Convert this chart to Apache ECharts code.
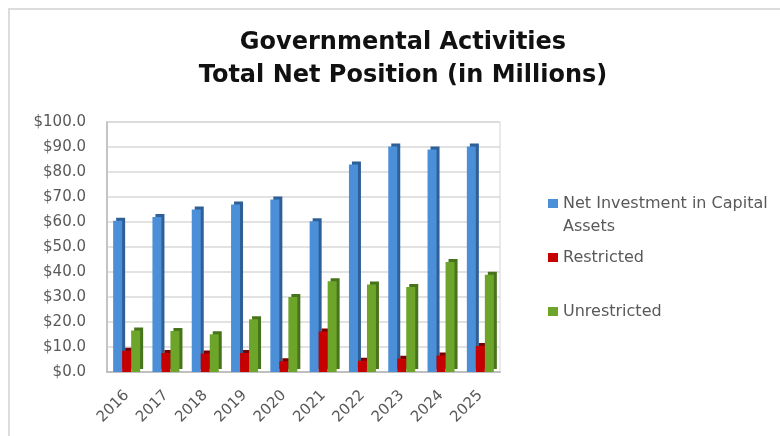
<!DOCTYPE html>
<html>
<head>
<meta charset="utf-8">
<script src="https://cdn.jsdelivr.net/npm/echarts@6/dist/echarts.min.js"></script>
<style>
  html, body { margin: 0; padding: 0; background: #ffffff; }
  #wrap { position: relative; width: 780px; height: 436px; overflow: hidden; }
  #frame { position: absolute; left: 8px; top: 8px; width: 800px; height: 460px;
           border-left: 2px solid #dcdcdc; border-top: 2px solid #dcdcdc; }
  #chart { position: absolute; left: 0; top: 0; width: 780px; height: 436px; }
</style>
</head>
<body>
<div id="wrap">
  <div id="frame"></div>
  <div id="chart"></div>
</div>
<script>
// Fiscal years on the category axis
const years = ['2016', '2017', '2018', '2019', '2020', '2021', '2022', '2023', '2024', '2025'];

// Net position components, $ millions
const netInvestment = [60.5, 62, 65, 67, 69, 60.3, 83, 90.2, 89, 90.2];
const restricted    = [8.5, 7.6, 7.4, 7.6, 4.3, 16.2, 4.5, 5.3, 6.6, 10.4];
const unrestricted  = [16.6, 16.4, 15.1, 21.1, 30.0, 36.3, 35.0, 34.0, 44.0, 38.9];

// Value axis ticks
const yTicks = { min: 0, max: 100, step: 10 };

const seriesNames = ['Net Investment in Capital\nAssets', 'Restricted', 'Unrestricted'];
const font = 'DejaVu Sans';

function bar(name, data, face, side) {
  return {
    name: name,
    type: 'bar',
    data: data,
    barWidth: 9,
    barGap: '0%',
    itemStyle: {
      color: face,
      shadowColor: side,
      shadowBlur: 0,
      shadowOffsetX: 3,
      shadowOffsetY: -3
    },
    emphasis: { disabled: true }
  };
}

// One legend per series so each swatch sits at its own row;
// a leading blank line keeps the swatch level with the first text line.
function legendFor(name, color, top, formatter) {
  return {
    show: true,
    orient: 'vertical',
    left: 543,
    top: top,
    itemWidth: 10,
    itemHeight: 9,
    icon: 'rect',
    itemGap: 0,
    data: [{ name: name, itemStyle: { color: color } }],
    formatter: formatter || (n => n),
    textStyle: { fontFamily: font, fontSize: 16, color: '#595959', lineHeight: 23 }
  };
}

const chart = echarts.init(document.getElementById('chart'), null, { renderer: 'canvas' });
chart.setOption({
  animation: false,
  backgroundColor: 'transparent',
  title: {
    text: 'Governmental Activities\nTotal Net Position (in Millions)',
    left: 398,
    top: 21,
    textAlign: 'center',
    textStyle: {
      fontFamily: 'DejaVu Sans',
      fontWeight: 'bold',
      fontSize: 24,
      lineHeight: 33,
      color: '#111111'
    }
  },
  legend: [
    legendFor(seriesNames[0], '#4a8fd8', 164, n => '\n' + n),
    legendFor(seriesNames[1], '#c60000', 241),
    legendFor(seriesNames[2], '#6da52a', 295)
  ],
  grid: {
    left: 107,
    right: 280,
    top: 122,
    bottom: 64,
    show: true,
    borderColor: '#d4d4d4',
    borderWidth: 1
  },
  xAxis: {
    type: 'category',
    data: years,
    axisLine: { show: true, lineStyle: { color: '#bfbfbf', width: 2 } },
    axisTick: { show: false },
    axisLabel: {
      rotate: 45,
      margin: 21,
      fontFamily: font,
      fontSize: 15,
      color: '#595959'
    }
  },
  yAxis: {
    type: 'value',
    min: yTicks.min,
    max: yTicks.max,
    interval: yTicks.step,
    axisLine: { show: true, lineStyle: { color: '#c4c4c4', width: 2 } },
    axisTick: { show: false },
    splitLine: { lineStyle: { color: '#d9d9d9', width: 1.5 } },
    axisLabel: {
      margin: 21,
      fontFamily: font,
      fontSize: 15,
      color: '#595959',
      formatter: v => '$' + v.toFixed(1)
    }
  },
  series: [
    bar(seriesNames[0], netInvestment, '#4a8fd8', '#2e5f96'),
    bar(seriesNames[1], restricted, '#c60000', '#7d0000'),
    bar(seriesNames[2], unrestricted, '#6da52a', '#47731a')
  ]
});
</script>
</body>
</html>
